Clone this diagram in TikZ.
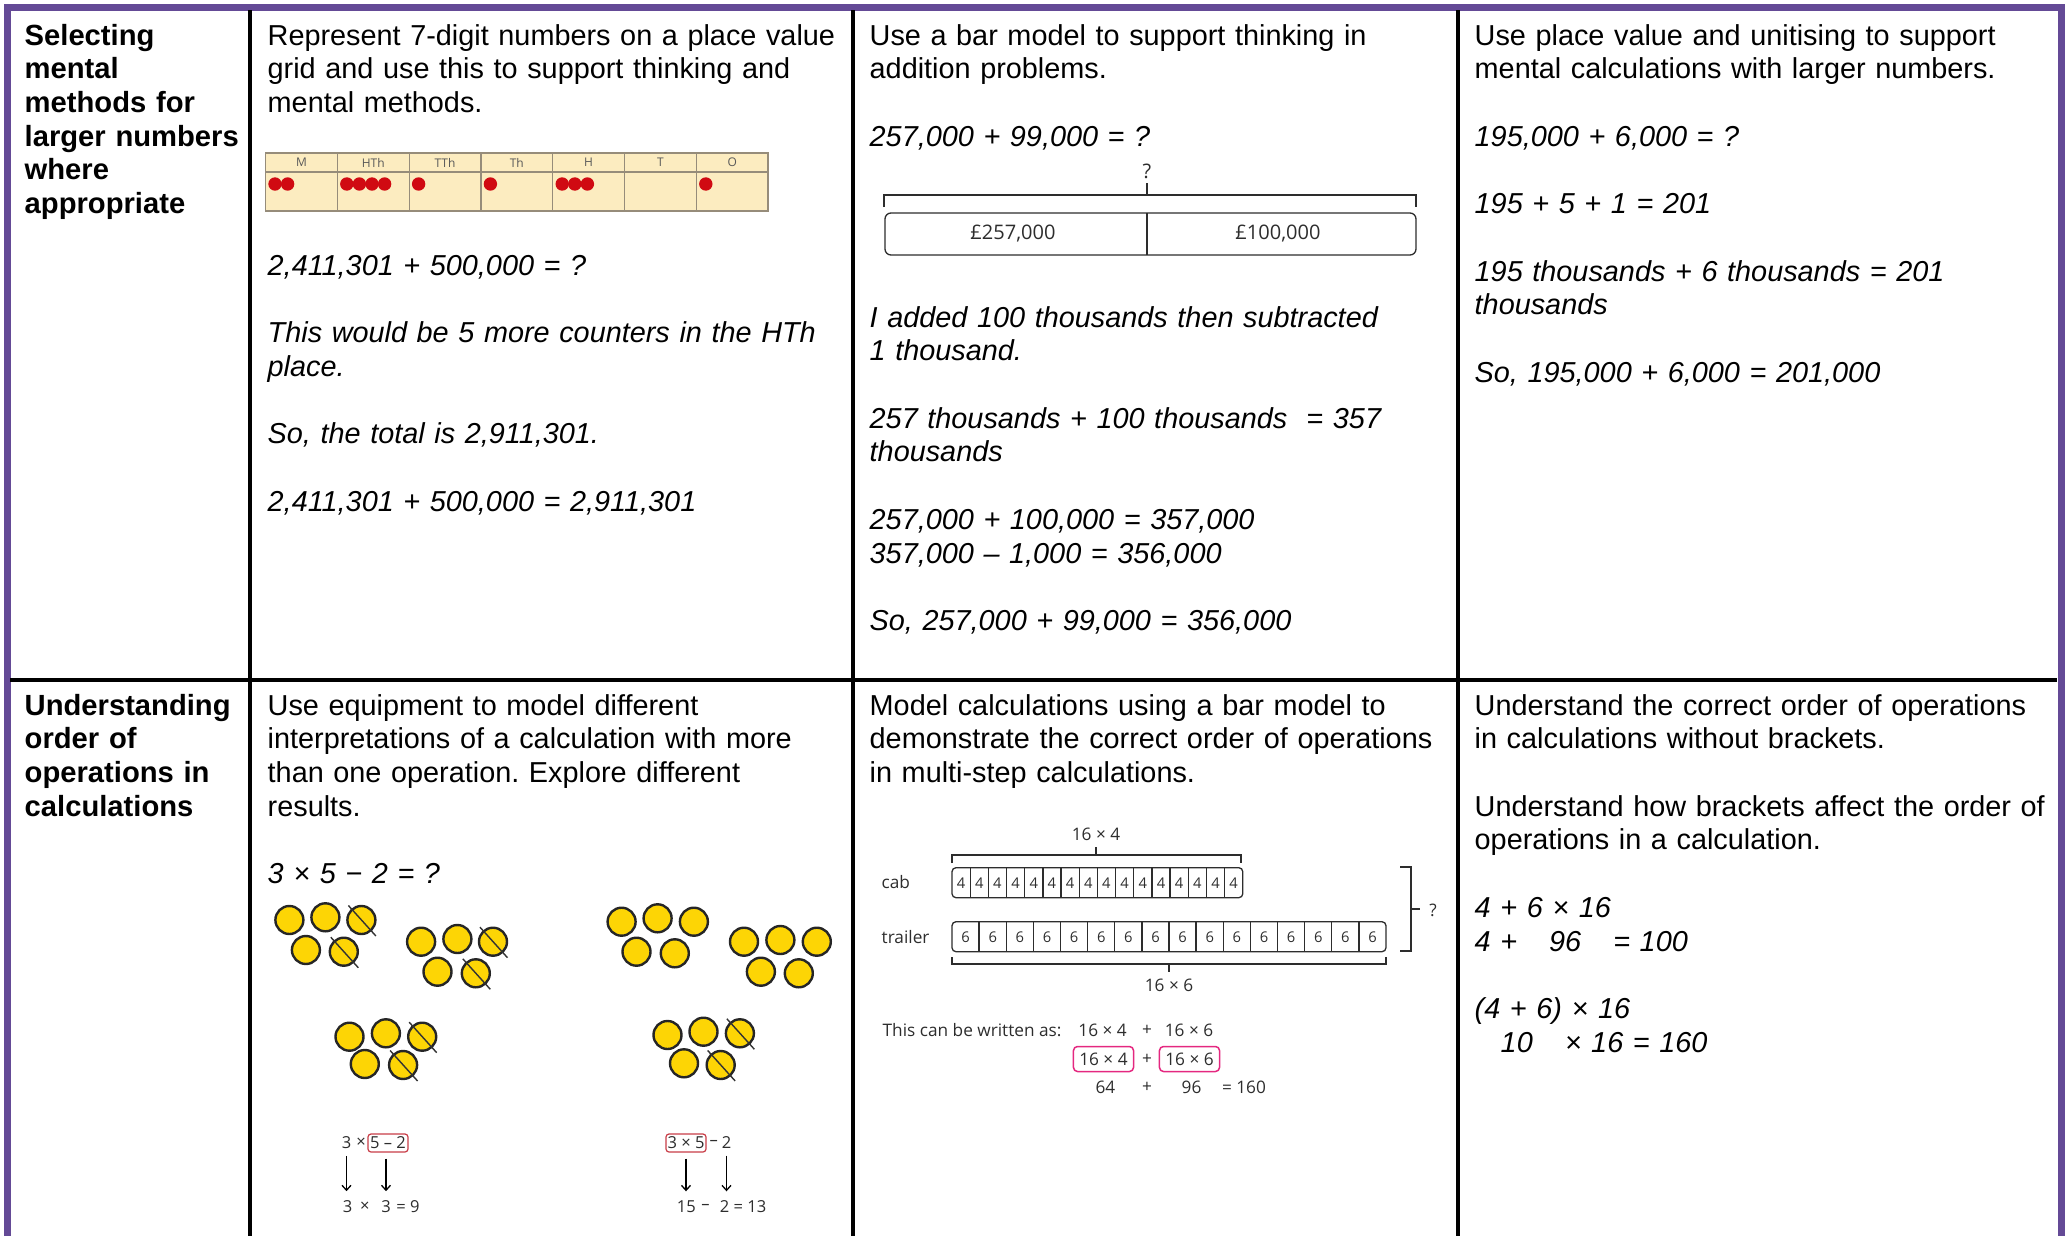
\documentclass[tikz,border=0pt]{standalone}
\usepackage{fontspec}
\setmainfont{Liberation Sans}
\newfontfamily\figfont{Open Sans}
\usetikzlibrary{arrows.meta}
\definecolor{framepurple}{RGB}{100,74,150}
\definecolor{gridfill}{RGB}{252,236,192}
\definecolor{gridgrey}{RGB}{150,140,122}
\definecolor{dotred}{RGB}{208,10,18}
\definecolor{coinyellow}{RGB}{253,213,5}
\definecolor{boxred}{RGB}{200,60,70}
\definecolor{boxpink}{RGB}{228,40,128}
\definecolor{figgrey}{RGB}{45,45,45}
\frenchspacing

\begin{document}
\begin{tikzpicture}[x = 0.01cm, y = -0.01cm,
    purpleframe/.style = {line width = 0.07cm, framepurple},
    tableline/.style = {line width = 0.035cm, black},
    maintext/.style = {anchor = base west, inner sep = 0pt, text width = 6cm, align = left, font = \fontsize{8.2}{9.59}\selectfont},
    headtext/.style = {maintext, text width = 2.3cm, font = \fontsize{8.3}{9.59}\selectfont\bfseries},
    figtext/.style = {inner sep = 0pt, text = figgrey, font = \figfont\fontsize{4.9}{5.8}\selectfont},
    bartext/.style = {figtext, font = \figfont\fontsize{5.7}{6.5}\selectfont},
    smalltext/.style = {figtext, font = \figfont\fontsize{4.7}{5.5}\selectfont},
    cellnum/.style = {figtext, font = \figfont\fontsize{4.2}{5}\selectfont},
    tinytext/.style = {figtext, text = black!65, font = \figfont\fontsize{3.4}{4}\selectfont},
    gridline/.style = {line width = 0.012cm, gridgrey},
    barline/.style = {line width = 0.013cm, figgrey},
    coin/.style = {fill = coinyellow, draw = black!85, line width = 0.024cm},
    strikeout/.style = {line width = 0.014cm, black!80},
    arrowline/.style = {-{Straight Barb[length = 0.05cm, width = 0.09cm]}, line width = 0.013cm, shorten < = 0.06cm, shorten > = 0.09cm},
    redbox/.style = {smalltext, draw = boxred, line width = 0.012cm, rounded corners = 0.03cm, minimum width = 0.4cm, minimum height = 0.18cm},
    pinkbox/.style = {figtext, draw = boxpink, line width = 0.015cm, rounded corners = 0.04cm, minimum width = 0.6cm, minimum height = 0.25cm}]
\useasboundingbox (0,0) rectangle (2065,1236);

\draw[purpleframe] (7.5,1250) -- (7.5,7) -- (2061,7) -- (2061,1250);
\draw[tableline] (250,10) -- (250,1250) (853,10) -- (853,1250) (1458,10) -- (1458,1250);
\draw[tableline] (10,680) -- (2057,680);

\node[headtext] (h1) at (24,45) {Selecting\\mental\\methods for\\larger numbers\\where\\appropriate};
\node[headtext] (h2) at (24,715) {Understanding\\order of\\operations in\\calculations};

\node[maintext] (a1) at (267,45) {Represent 7-digit numbers on a place value\\grid and use this to support thinking and\\mental methods.};
\fill[gridfill] (265.5,153) rectangle (768,211);
\draw[gridline] (265.5,153) rectangle (768,211) (265.5,172) -- (768,172);
\foreach \i/\lab in {0/M,1/HTh,2/TTh,3/Th,4/H,5/T,6/O} {
    \draw[gridline] (265.5+71.8*\i,153) -- (265.5+71.8*\i,211);
    \node[tinytext] (pv\i) at (301.4+71.8*\i,162.5) {\lab};
}
\foreach \i/\n in {0/2,1/4,2/1,3/1,4/3,6/1}
    \foreach \j in {1,...,\n}
        \fill[dotred] (262.4+71.8*\i+12.6*\j,184) circle (6.7);
\node[maintext] (a2) at (267,275) {\itshape 2,411,301 + 500,000 = ?\\[9.59pt]This would be 5 more counters in the HTh\\place.\\[9.59pt]So, the total is 2,911,301.\\[9.59pt]2,411,301 + 500,000 = 2,911,301};

\node[maintext] (b1) at (869,45) {Use a bar model to support thinking in\\addition problems.\\[9.59pt]\itshape 257,000 + 99,000 = ?};
\node[bartext] (q1) at (1147,171) {?};
\draw[barline] (q1.south) ++(0,4) -- (1147,195);
\draw[barline] (884,207) -- (884,195) -- (1416,195) -- (1416,207);
\draw[barline, rounded corners = 0.06cm] (885,213) rectangle (1416,255);
\draw[barline] (1147,213) -- (1147,255);
\node[bartext] (b2) at (1013,234) {£257,000};
\node[bartext] (b3) at (1278,234) {£100,000};
\node[maintext] (b4) at (869,327) {\itshape I added 100 thousands then subtracted\\1 thousand.\\[9.59pt]257 thousands + 100 thousands \ = 357\\thousands\\[9.59pt]257,000 + 100,000 = 357,000\\357,000 – 1,000 = 356,000\\[9.59pt]So, 257,000 + 99,000 = 356,000};

\node[maintext] (c1) at (1474,45) {Use place value and unitising to support\\mental calculations with larger numbers.\\[9.59pt]\itshape 195,000 + 6,000 = ?\\[9.59pt]195 + 5 + 1 = 201\\[9.59pt]195 thousands + 6 thousands = 201\\thousands\\[9.59pt]So, 195,000 + 6,000 = 201,000};

\node[maintext] (a3) at (267,715) {Use equipment to model different\\interpretations of a calculation with more\\than one operation. Explore different\\results.\\[9.59pt]\itshape 3 × 5 − 2 = ?};
\foreach \cx/\cy in {289.4/920, 325.4/917.3, 361.4/920, 305.9/950, 343.8/951.7,
    421.1/941.7, 457.4/939, 493/941.7, 437.5/971.7, 475.8/973.3,
    349.5/1036.7, 385.9/1033.3, 422.2/1036.7, 364.8/1064, 403.1/1065,
    621.6/921.7, 657.6/918.3, 693.9/921.7, 636.5/951.7, 674.8/953.3,
    744/941.7, 780.4/940, 816.8/941.7, 760.9/971.7, 798.8/973.3,
    667.5/1035, 703.5/1031.7, 739.9/1033.3, 684/1063.3, 720.7/1065}
    \draw[coin] (\cx,\cy) circle (14);
\foreach \cx/\cy in {361.4/920, 343.8/951.7, 493/941.7, 475.8/973.3,
    422.2/1036.7, 403.1/1065, 739.9/1033.3, 720.7/1065}
    \draw[strikeout] (\cx-13,\cy-14.5) -- (\cx+14.5,\cy+16);
\node[smalltext] (e1) at (346.5,1143) {3};
\node[smalltext] (e2) at (361,1143) {×};
\node[redbox] (e3) at (388,1143) {5 – 2};
\node[smalltext] (f1) at (347.6,1207) {3};
\node[smalltext] (f2) at (364.8,1207) {×};
\node[smalltext] (f3) at (386,1207) {3};
\node[smalltext] (f4) at (408,1207) {= 9};
\draw[arrowline] (e1.south) -- (e1.south |- f1.north);
\draw[arrowline] (f3.north |- e3.south) -- (f3.north);
\node[redbox] (g1) at (686,1143) {3 × 5};
\node[smalltext] (g2) at (713.8,1143) {–};
\node[smalltext] (g3) at (726.5,1143) {2};
\node[smalltext] (k1) at (686.3,1207) {15};
\node[smalltext] (k2) at (705.4,1207) {–};
\node[smalltext] (k3) at (724.6,1207) {2};
\node[smalltext] (k4) at (750,1207) {= 13};
\draw[arrowline] (g1.south) -- (g1.south |- k1.north);
\draw[arrowline] (g3.south) -- (g3.south |- k3.north);

\node[maintext] (b5) at (869,715) {Model calculations using a bar model to\\demonstrate the correct order of operations\\in multi-step calculations.};
\node[figtext] (m1) at (1096,834) {16 × 4};
\draw[barline] (952,863) -- (952,855) -- (1241,855) -- (1241,863) (1096,855) -- (1096,847);
\node[figtext, anchor = west] (cab) at (881,882) {cab};
\draw[barline, rounded corners = 0.04cm] (952,867.7) rectangle (1242.8,897.7);
\foreach \i in {1,...,15}
    \draw[barline] (952+18.17*\i,867.7) -- (952+18.17*\i,897.7);
\foreach \i in {0,...,15}
    \node[cellnum] (cab\i) at (961.1+18.17*\i,883) {4};
\node[figtext, anchor = west] (trailer) at (881,937) {trailer};
\draw[barline, rounded corners = 0.04cm] (952,921.7) rectangle (1386,951.7);
\foreach \i in {1,...,15}
    \draw[barline] (952+27.125*\i,921.7) -- (952+27.125*\i,951.7);
\foreach \i in {0,...,15}
    \node[cellnum] (tr\i) at (965.6+27.125*\i,937) {6};
\draw[barline] (952,957) -- (952,964) -- (1386,964) -- (1386,957) (1169,964) -- (1169,972);
\node[figtext] (m2) at (1169,985) {16 × 6};
\draw[barline] (1400,867) -- (1411,867) -- (1411,951) -- (1400,951) (1411,909) -- (1420,909);
\node[figtext] (q2) at (1433,910) {?};
\node[figtext, anchor = west] (w0) at (882,1030) {This can be written as:};
\node[figtext] (w1) at (1102.6,1030) {16 × 4};
\node[figtext] (w2) at (1147,1030) {+};
\node[figtext] (w3) at (1189,1030) {16 × 6};
\node[pinkbox] (w4) at (1103.5,1059) {16 × 4};
\node[figtext] (w5) at (1147,1059) {+};
\node[pinkbox] (w6) at (1189.5,1059) {16 × 6};
\node[figtext] (w7) at (1105.4,1087) {64};
\node[figtext] (w8) at (1147,1087) {+};
\node[figtext] (w9) at (1191.5,1087) {96};
\node[figtext] (w10) at (1244,1087) {= 160};

\node[maintext] (c2) at (1474,715) {Understand the correct order of operations\\in calculations without brackets.\\[9.59pt]Understand how brackets affect the order of\\operations in a calculation.\\[9.59pt]\itshape 4 + 6 × 16\\4 +\hspace{0.32cm}96\hspace{0.32cm}= 100\\[9.59pt](4 + 6) × 16\\\hspace*{0.26cm}10\hspace{0.32cm}× 16 = 160};
\end{tikzpicture}
\end{document}
